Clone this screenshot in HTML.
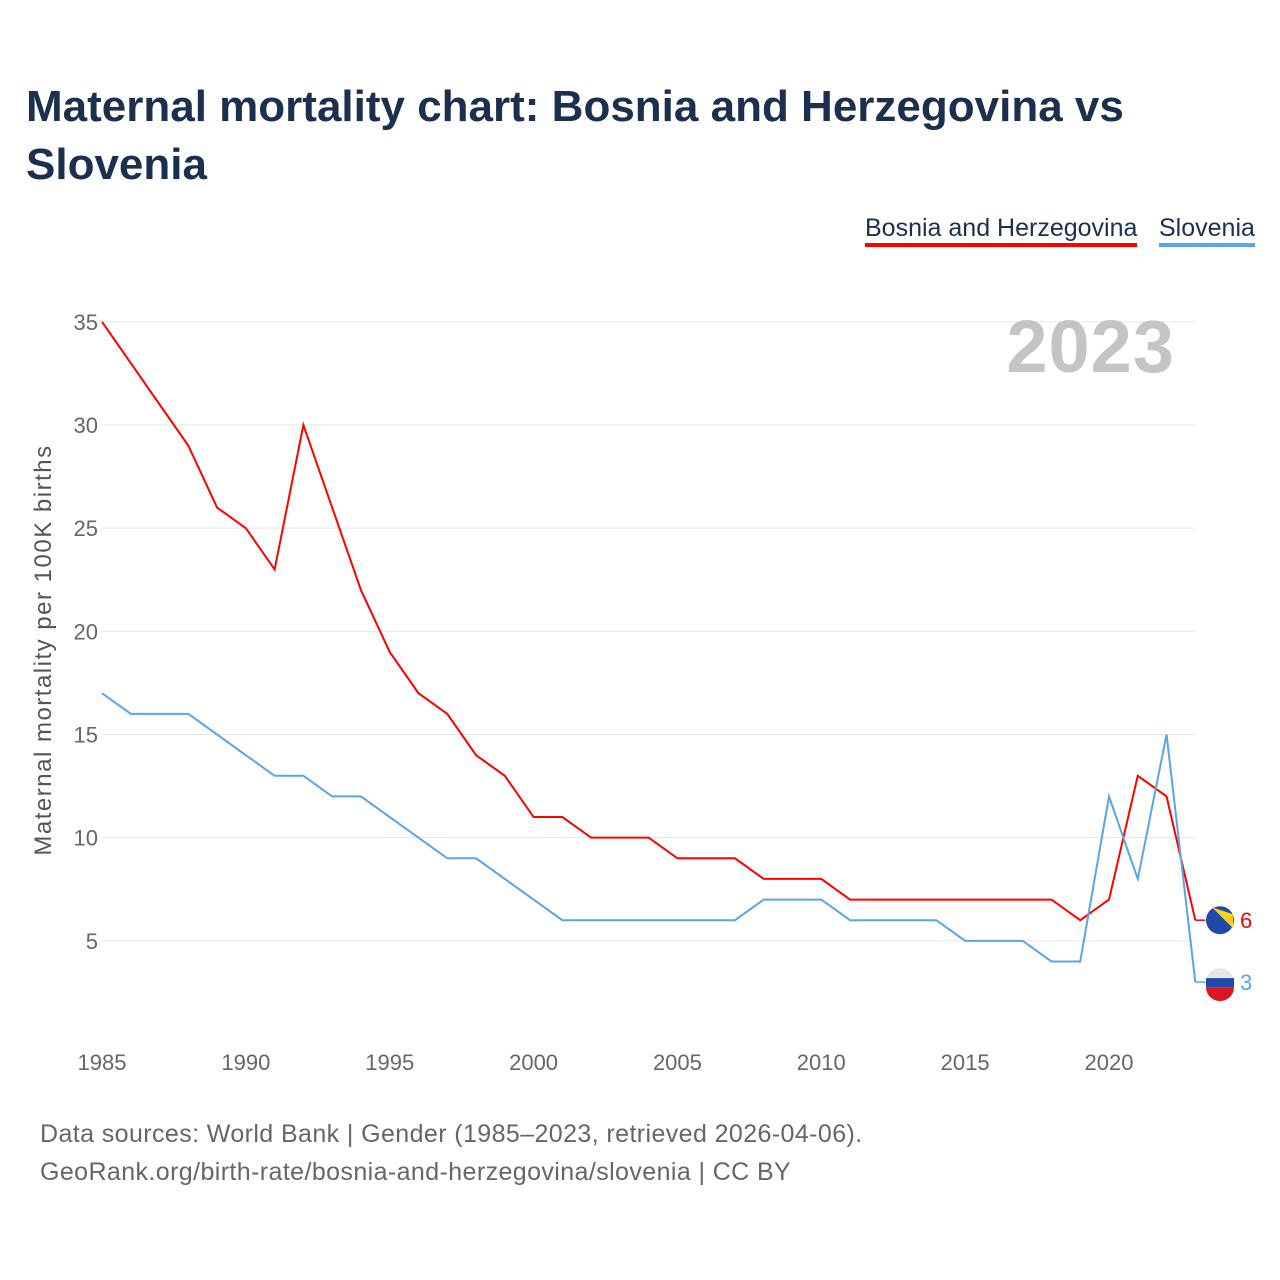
<!DOCTYPE html>
<html><head><meta charset="utf-8"><style>
body{margin:0;background:#fff;font-family:"Liberation Sans",sans-serif;}
#wrap{position:relative;width:1280px;height:1280px;overflow:hidden}
h1{position:absolute;left:26px;top:78px;margin:0;font-size:44px;line-height:58px;color:#1b2f4e;font-weight:bold;width:1200px;letter-spacing:0px}
.leg{position:absolute;top:214px;font-size:25px;color:#1b2f4e}
.src{position:absolute;left:40px;font-size:25px;letter-spacing:0.4px;color:#666}
</style></head><body>
<div id="wrap">
<h1>Maternal mortality chart: Bosnia and Herzegovina vs Slovenia</h1>
<div class="leg" style="left:865px;border-bottom:4px solid #f00;padding-bottom:0">Bosnia and Herzegovina</div>
<div class="leg" style="left:1159px;border-bottom:4px solid #5aa5e8">Slovenia</div>
<svg id="chart" width="1280" height="1280" style="position:absolute;left:0;top:0"></svg>
<div class="src" style="top:1120px">Data sources: World Bank | Gender (1985–2023, retrieved 2026-04-06).</div>
<div class="src" style="top:1158px">GeoRank.org/birth-rate/bosnia-and-herzegovina/slovenia | CC BY</div>
</div>
<script>
const years=[1985,1986,1987,1988,1989,1990,1991,1992,1993,1994,1995,1996,1997,1998,1999,2000,2001,2002,2003,2004,2005,2006,2007,2008,2009,2010,2011,2012,2013,2014,2015,2016,2017,2018,2019,2020,2021,2022,2023];
const bosnia=[35,33,31,29,26,25,23,30,26,22,19,17,16,14,13,11,11,10,10,10,9,9,9,8,8,8,7,7,7,7,7,7,7,7,6,7,13,12,6];
const slovenia=[17,16,16,16,15,14,13,13,12,12,11,10,9,9,8,7,6,6,6,6,6,6,6,7,7,7,6,6,6,6,5,5,5,4,4,12,8,15,3];
const yTicks=[5,10,15,20,25,30,35];
const xTicks=[1985,1990,1995,2000,2005,2010,2015,2020];
const NS="http://www.w3.org/2000/svg";
const svg=document.getElementById('chart');
const X=y=>102+(y-1985)*(1109-102)/35;
const Y=v=>1044-v*(941-322)/30;
function mk(t,a){const e=document.createElementNS(NS,t);for(const k in a)e.setAttribute(k,a[k]);svg.appendChild(e);return e;}
yTicks.forEach(v=>{
 const g=mk('line',{x1:102,x2:1195,y1:Y(v),y2:Y(v),stroke:'#e6e6e6','stroke-width':1});
 
 
 const t=mk('text',{x:98,y:Y(v)+8,'text-anchor':'end','font-size':22,fill:'#666'});t.textContent=v;
 
 
});
xTicks.forEach(v=>{
 const t=mk('text',{x:X(v),y:1070,'text-anchor':'middle','font-size':22,fill:'#666'});t.textContent=v;
 
 
});
const yt=mk('text',{x:0,y:0,transform:'translate(51,650) rotate(-90)','text-anchor':'middle','font-size':24,'letter-spacing':1.5,fill:'#555'});
yt.textContent='Maternal mortality per 100K births';


const yr=mk('text',{x:1175,y:372,'text-anchor':'end','font-size':74,'font-weight':'bold','letter-spacing':1,fill:'#c4c4c4'});
yr.textContent='2023';


function series(d,c,name){
 const pts=d.map((v,i)=>X(years[i])+','+Y(v)).join(' ');
 const p=mk('polyline',{points:pts,fill:'none',stroke:c,'stroke-width':2});
 
 
 const last=d[d.length-1],ly=Y(last),lx=X(years[years.length-1]);
 mk('line',{x1:lx,x2:lx+10,y1:ly,y2:ly,stroke:c,'stroke-width':1.5});
 const t=mk('text',{x:1240,y:ly+8,'font-size':22,fill:c});t.textContent=last;
 
 
 return ly;
}
const by=series(bosnia,'#f00','bosnia');
const sy=series(slovenia,'#5aa5e8','slovenia');
let f=mk('circle',{cx:1220,cy:by,r:14,fill:'#1f4aa8'});


mk('path',{d:`M${1212} ${by-13} L1233 ${by-6} L1233 ${by+8} Z`,fill:'#fcd116'});
f=mk('circle',{cx:1220,cy:sy,r:14,fill:'#e8e8e8'});


mk('rect',{x:1206,y:sy-4,width:28,height:9,fill:'#1f4aa8'});
mk('path',{d:`M1206 ${sy+5} L1234 ${sy+5} A14 14 0 0 1 1206 ${sy+5} Z`,fill:'#e0141e'});
</script>
</body></html>
